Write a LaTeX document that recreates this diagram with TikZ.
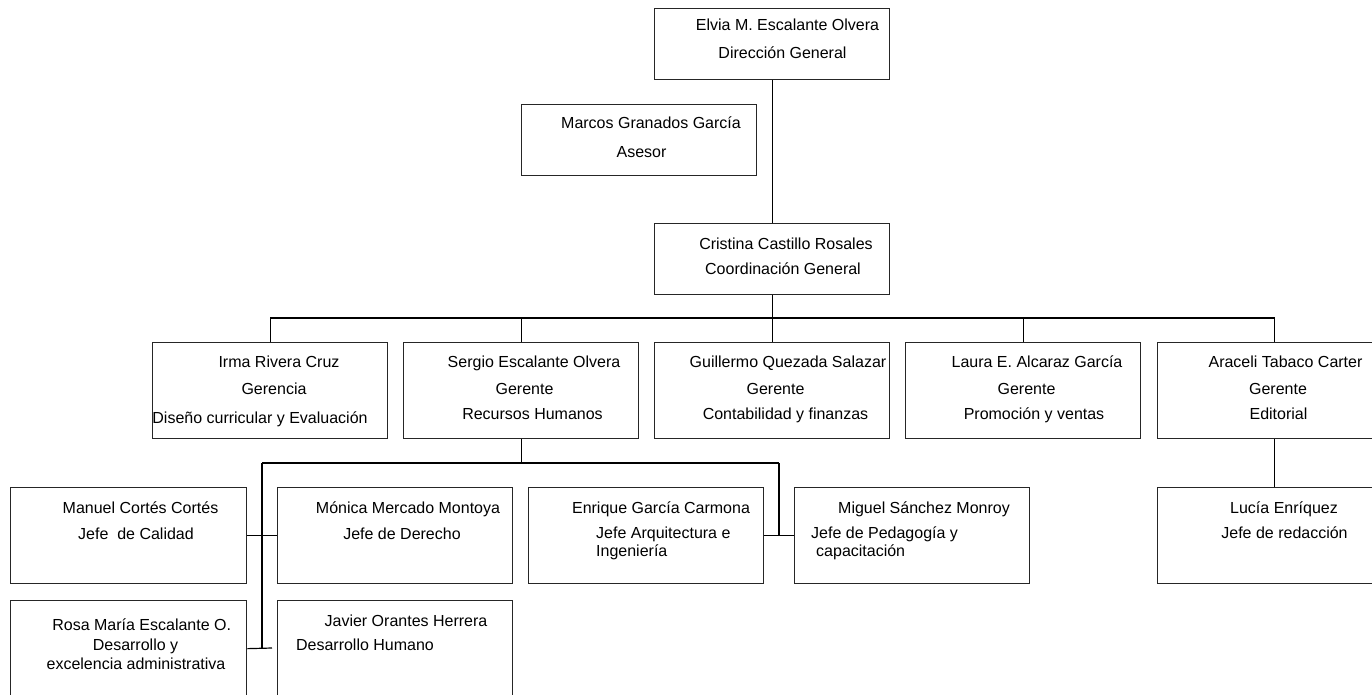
\documentclass[tikz,border=0pt]{standalone}
\usepackage{fontspec}
\setmainfont{Liberation Sans}
\newcommand\orgfont{\fontsize{16bp}{18bp}\selectfont}
\begin{document}
\begin{tikzpicture}[x=1bp,y=-1bp,
  box/.style={draw=black!85,line width=1.3bp,inner sep=0pt,anchor=north west,minimum width=235bp},
  small/.style={box,minimum height=71bp},
  tall/.style={box,minimum height=96bp},
  t/.style={font=\orgfont,inner sep=0pt,anchor=base},
  tl/.style={font=\orgfont,inner sep=0pt,anchor=base west},
  link/.style={draw=black,line width=1.2bp}]
\clip (0,0) rectangle (1372,694);
\fill[white] (0,0) rectangle (1372,694);
% boxes
\node[small] (elvia) at (654,8) {};
\node[small] (marcos) at (521,104) {};
\node[small] (cristina) at (654,223) {};
\node[tall] (irma) at (152,342) {};
\node[tall] (sergio) at (403,342) {};
\node[tall] (guillermo) at (654,342) {};
\node[tall] (laura) at (905,342) {};
\node[tall] (araceli) at (1156.5,342) {};
\node[tall,minimum width=236bp] (manuel) at (10,487) {};
\node[tall] (monica) at (277,487) {};
\node[tall] (enrique) at (528,487) {};
\node[tall] (miguel) at (794,487) {};
\node[tall] (lucia) at (1156.5,487) {};
\node[tall,minimum width=236bp] (rosa) at (10,600) {};
\node[tall] (javier) at (277,600) {};
% texts
\node[t] (elvia1) at (787.5,31) {Elvia M. Escalante Olvera};
\node[t] (elvia2) at (782.5,59) {Dirección General};
\node[t] (marcos1) at (651,129) {Marcos Granados García};
\node[t] (marcos2) at (641.5,157) {Asesor};
\node[t] (cristina1) at (786,249) {Cristina Castillo Rosales};
\node[t] (cristina2) at (783,274) {Coordinación General};
\node[t] (irma1) at (279,367) {Irma Rivera Cruz};
\node[t] (irma2) at (274,394) {Gerencia};
\node[t] (irma3) at (260,423) {Diseño curricular y Evaluación};
\node[t] (sergio1) at (534,367) {Sergio Escalante Olvera};
\node[t] (sergio2) at (524.5,394) {Gerente};
\node[t] (sergio3) at (532.5,419) {Recursos Humanos};
\node[t] (guillermo1) at (788,367) {Guillermo Quezada Salazar};
\node[t] (guillermo2) at (775.5,394) {Gerente};
\node[t] (guillermo3) at (785.5,419) {Contabilidad y finanzas};
\node[t] (laura1) at (1037,367) {Laura E. Alcaraz García};
\node[t] (laura2) at (1026.5,394) {Gerente};
\node[t] (laura3) at (1034,419) {Promoción y ventas};
\node[t] (araceli1) at (1285.5,367) {Araceli Tabaco Carter};
\node[t] (araceli2) at (1278,394) {Gerente};
\node[t] (araceli3) at (1278.5,419) {Editorial};
\node[t] (manuel1) at (140.5,513) {Manuel Cortés Cortés};
\node[t] (manuel2) at (136,539) {Jefe\ \ de Calidad};
\node[t] (monica1) at (408,513) {Mónica Mercado Montoya};
\node[t] (monica2) at (402,539) {Jefe de Derecho};
\node[t] (enrique1) at (661,513) {Enrique García Carmona};
\node[tl] (enrique2) at (596,538) {Jefe Arquitectura e};
\node[tl] (enrique3) at (596,556) {Ingeniería};
\node[t] (miguel1) at (924,513) {Miguel Sánchez Monroy};
\node[tl] (miguel2) at (811,538) {Jefe de Pedagogía y};
\node[tl] (miguel3) at (816,556) {capacitación};
\node[t] (lucia1) at (1284,513) {Lucía Enríquez};
\node[t] (lucia2) at (1284.5,538) {Jefe de redacción};
\node[t] (rosa1) at (141.7,630) {Rosa María Escalante O.};
\node[t] (rosa2) at (135.5,650) {Desarrollo y};
\node[t] (rosa3) at (136,669) {excelencia administrativa};
\node[t] (javier1) at (406,626) {Javier Orantes Herrera};
\node[t] (javier2) at (365,650) {Desarrollo Humano};
% connectors
\coordinate (busa) at (0,318);
\coordinate (busb) at (0,463);
\coordinate (lv) at (262,463);
\coordinate (rv) at (779,463);
\coordinate (rosaend) at (272,648);
\draw[link] (elvia.south) -- (cristina.north);
\draw[link] (cristina.south) -- (guillermo.north);
\draw[link] (irma.north) -- (irma.north |- busa) -- (araceli.north |- busa) -- (araceli.north);
\draw[link] (sergio.north) -- (sergio.north |- busa);
\draw[link] (laura.north) -- (laura.north |- busa);
\draw[link] (sergio.south) -- (sergio.south |- busb);
\draw[link] (lv) -- (rv);
\draw[link] (lv) -- (lv |- rosa.east);
\draw[link] (rv) -- (rv |- enrique.east);
\draw[link] (manuel.east) -- (monica.west);
\draw[link] (enrique.east) -- (miguel.west);
\draw[link] (rosa.east) -- (rosaend);
\draw[link] (araceli.south) -- (lucia.north);
\end{tikzpicture}
\end{document}
